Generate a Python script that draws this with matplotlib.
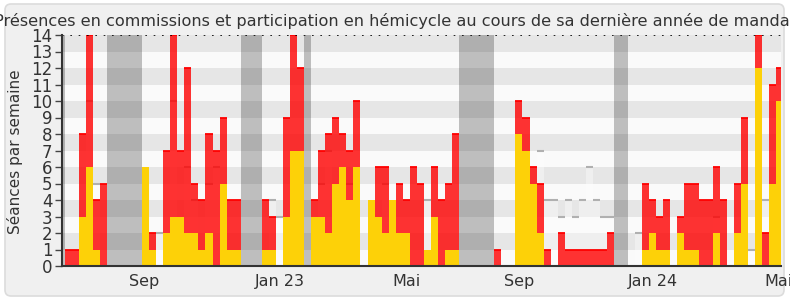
import matplotlib
matplotlib.use("Agg")
import matplotlib.pyplot as plt
from matplotlib.patches import FancyBboxPatch
from matplotlib.transforms import IdentityTransform
import numpy as np

# seances par semaine (index = semaine)
red = [1, 1, 8, 14, 4, 5, 0, 0, 0, 0, 0, 6, 2, 0, 7, 14, 7, 12, 5, 4,
       8, 7, 9, 4, 4, 0, 0, 0, 4, 3, 0, 9, 14, 12, 0, 4, 7, 8, 9, 8,
       7, 10, 0, 4, 6, 6, 4, 5, 4, 6, 5, 1, 6, 4, 5, 8, 0, 0, 0, 0,
       0, 1, 0, 0, 10, 9, 6, 5, 1, 0, 2, 1, 1, 1, 1, 1, 1, 2, 0, 0,
       0, 0, 5, 4, 3, 4, 0, 3, 5, 5, 4, 4, 6, 4, 0, 5, 9, 0, 14, 2,
       11, 12]
yellow = [0, 0, 3, 6, 1, 0, 0, 0, 0, 0, 0, 6, 1, 0, 2, 3, 3, 2, 2, 1,
          2, 0, 5, 1, 1, 0, 0, 0, 1, 1, 0, 3, 7, 7, 0, 3, 3, 2, 5, 6,
          4, 6, 0, 4, 3, 2, 4, 2, 2, 0, 0, 1, 3, 0, 1, 1, 0, 0, 0, 0,
          0, 0, 0, 0, 8, 7, 5, 2, 0, 0, 0, 0, 0, 0, 0, 0, 0, 0, 0, 0,
          0, 0, 1, 2, 1, 1, 0, 2, 1, 1, 0, 0, 2, 0, 0, 2, 5, 0, 12, 0,
          5, 10]
# mediane des deputes (seulement la ou elle se voit)
median = {3: 10, 4: 5, 13: 2, 15: 10, 17: 6, 18: 4, 20: 5, 21: 6, 29: 4, 30: 3,
          36: 5, 37: 7, 40: 5, 45: 5, 51: 4, 67: 7, 68: 4, 69: 4, 70: 3, 71: 4,
          72: 3, 73: 4, 74: 6, 75: 4, 76: 3, 77: 3, 81: 2, 92: 3, 97: 1, 99: 4}
# vacances parlementaires: (premiere semaine, nb semaines)
vacances = [(-1, 1), (6, 5), (25, 3), (34, 1), (56, 5), (78, 2)]

tick_pos = [11.3, 30.5, 48.5, 64.5, 83.5, 101.3]
tick_labels = ["Sep", "Jan 23", "Mai", "Sep", "Jan 24", "Mai"]

titre = ("Présences en commissions et participation en hémicycle "
         "au cours de sa dernière année de mandat")

fig = plt.figure(figsize=(7.9, 3.0), dpi=100)
fig.patch.set_facecolor("white")
cadre = FancyBboxPatch((5, 4), 779, 292, boxstyle="round,pad=0,rounding_size=6",
                       transform=IdentityTransform(), facecolor="#f0f0f0",
                       edgecolor="#dcdcdc", linewidth=1.2, zorder=-10)
fig.patches.append(cadre)

ax = fig.add_axes([62 / 790, 34 / 300, 719 / 790, 231 / 300])
ax.set_xlim(-0.37, 101.7)
ax.set_ylim(0, 14)

for k in range(14):
    ax.axhspan(k, k + 1, color="#e6e6e6" if k % 2 else "#fafafa", lw=0, zorder=0)

for debut, n in vacances:
    ax.axvspan(debut, debut + n, color="black", alpha=0.24, lw=0, zorder=1)

x = np.arange(len(red))
red = np.array(red)
yellow = np.array(yellow)

mx = np.array(list(median.keys()))
mv = np.array(list(median.values()))
ax.bar(mx, mv, width=1, align="edge", color="white", alpha=0.4, lw=0, zorder=2)
ax.hlines(mv, mx, mx + 1, color="#b0b0b0", lw=1.5, zorder=2)

ax.bar(x, red, width=1, align="edge", color="#ff0000", alpha=0.8, lw=0, zorder=3)
m = (red > 0) & (red != yellow)
ax.hlines(red[m], x[m], x[m] + 1, color="#ff0000", lw=1.3, zorder=3)
ax.bar(x, yellow, width=1, align="edge", color="#fdd108", lw=0, zorder=4)

ax.axhline(14, color="black", lw=1.2, linestyle=(0, (1, 4)), zorder=5)

for s in ["top", "right"]:
    ax.spines[s].set_visible(False)
for s in ["left", "bottom"]:
    ax.spines[s].set_color("#333333")
    ax.spines[s].set_linewidth(1.5)
    ax.spines[s].set_zorder(6)

ax.set_yticks(range(15))
ax.tick_params(axis="y", length=5, width=1, color="#444444", labelsize=12,
               labelcolor="#333333", pad=2)
ax.set_xticks(tick_pos)
ax.set_xticklabels(tick_labels)
ax.tick_params(axis="x", length=0, labelsize=11.5, labelcolor="#333333", pad=6)

fig.text(395 / 790, 1 - 26 / 300, titre, ha="center", va="baseline",
         fontsize=11.6, color="#333333")
fig.text(15 / 790, 1 - 152 / 300, "Séances par semaine", rotation=90,
         ha="center", va="center", fontsize=11, color="#333333")

fig.savefig("out.png", dpi=100)
